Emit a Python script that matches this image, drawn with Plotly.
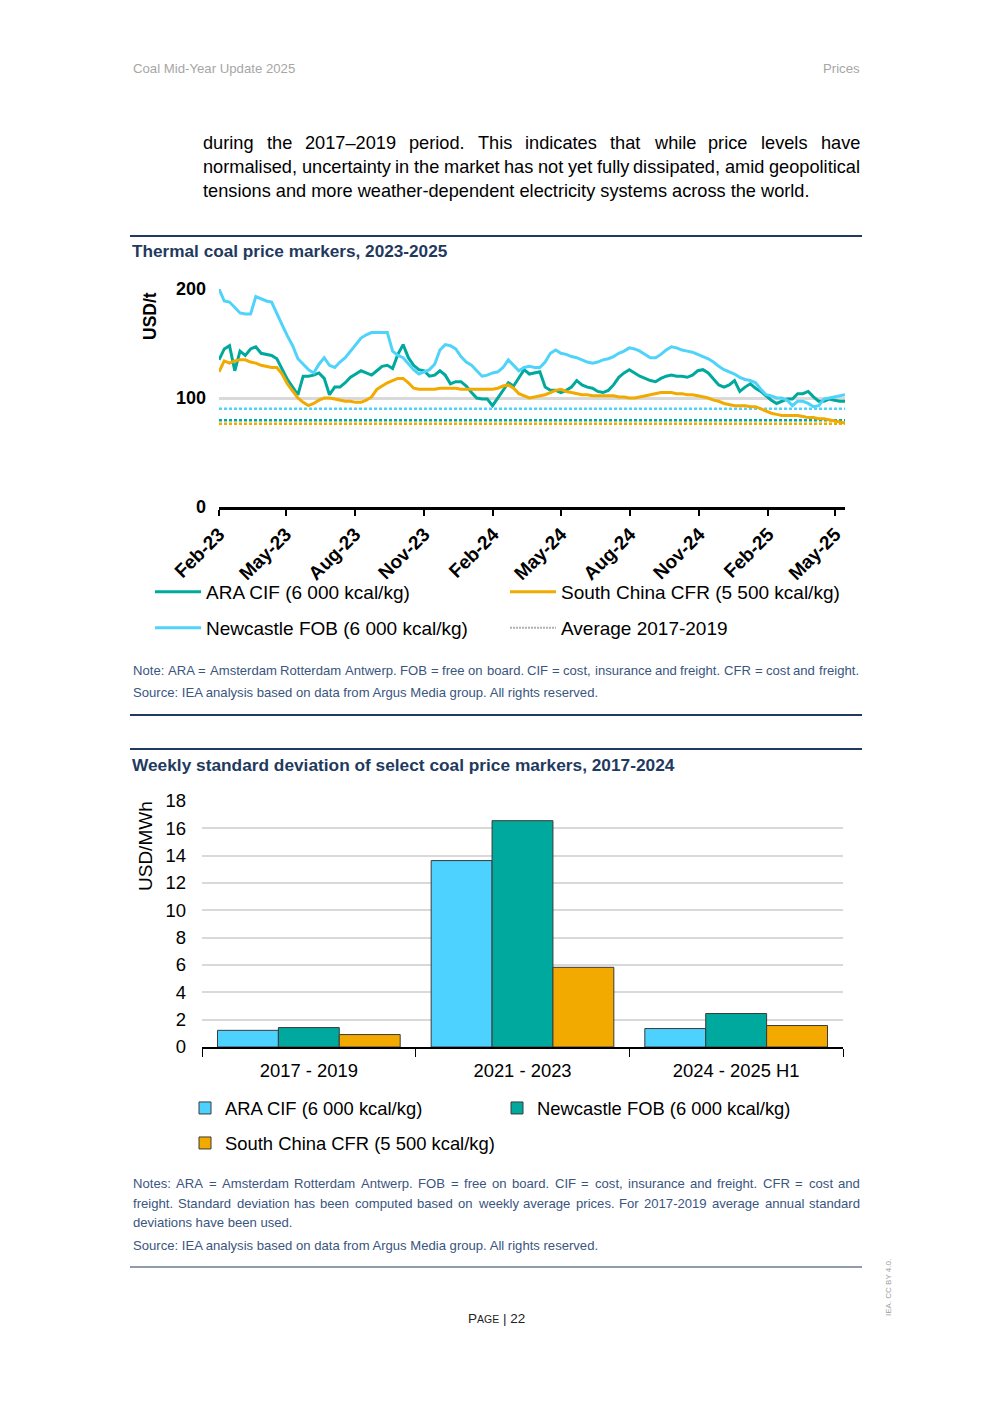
import plotly.graph_objects as go
import pandas as pd

W, H = 992, 1403
def px(x):
    return x / W
def py(y):
    return 1 - y / H

FONT = "Liberation Sans, Arial, sans-serif"

# ---------------- data: thermal coal price markers (USD/t), weekly ----------------
dates = pd.date_range("2023-02-03", periods=120, freq="7D")

ara_cif = [135, 145, 148, 125, 143, 139, 145, 147, 141, 140,
           139, 136, 127, 117, 110, 103, 120, 120, 121, 123,
           118, 103, 110, 110, 114, 119, 122, 125, 123, 121,
           125, 129, 130, 127, 140, 149, 137, 130, 126, 125,
           120, 121, 125, 121, 113, 115, 115, 111, 105, 100,
           99, 99, 93, 100, 108, 114, 111, 118, 126, 122,
           123, 124, 110, 107, 107, 105, 107, 110, 116, 112,
           110, 109, 106, 105, 107, 112, 119, 123, 126, 123,
           120, 118, 116, 115, 118, 120, 121, 120, 120, 119,
           121, 125, 126, 123, 117, 112, 110, 112, 116, 106,
           110, 113, 109, 106, 102, 98, 95, 97, 99, 99,
           104, 104, 106, 101, 97, 97, 99, 98, 97, 97]

newcastle_fob = [200, 189, 188, 183, 178, 177, 177, 193, 191, 189,
                 188, 177, 167, 157, 148, 136, 131, 126, 123, 131,
                 137, 130, 128, 133, 137, 143, 150, 155, 158, 160,
                 160, 160, 160, 143, 139, 137, 131, 126, 122, 124,
                 126, 131, 144, 149, 148, 145, 138, 133, 130, 125,
                 120, 121, 123, 124, 128, 135, 130, 125, 128, 129,
                 128, 128, 133, 141, 144, 141, 140, 138, 137, 135,
                 133, 132, 133, 135, 136, 138, 141, 143, 146, 145,
                 143, 140, 137, 137, 140, 144, 147, 146, 144, 143,
                 142, 140, 138, 136, 133, 129, 126, 124, 122, 119,
                 117, 116, 114, 108, 103, 102, 100, 100, 98, 93,
                 97, 97, 95, 92, 93, 99, 100, 101, 102, 103]

south_china_cfr = [124, 134, 132, 134, 135, 135, 133, 132, 130, 129,
                   128, 128, 122, 113, 106, 100, 96, 93, 95, 98,
                   100, 100, 99, 98, 97, 97, 96, 96, 98, 101,
                   108, 111, 114, 116, 118, 118, 114, 109, 108, 108,
                   108, 108, 109, 109, 109, 109, 108, 108, 108, 108,
                   108, 108, 108, 109, 111, 112, 109, 104, 102, 100,
                   101, 102, 103, 105, 107, 108, 106, 105, 104, 103,
                   103, 102, 102, 102, 102, 102, 101, 101, 100, 100,
                   101, 102, 103, 104, 105, 105, 105, 104, 104, 103,
                   103, 102, 101, 100, 98, 97, 95, 94, 93, 93,
                   93, 92, 92, 90, 88, 86, 85, 84, 84, 84,
                   84, 83, 82, 82, 81, 81, 80, 79, 78, 77]

avg_ara_2017_2019 = 79.5
avg_newcastle_2017_2019 = 90.2
avg_south_china_2017_2019 = 76.3

tick_dates = ["2023-02-03", "2023-05-03", "2023-08-03", "2023-11-03", "2024-02-03",
              "2024-05-03", "2024-08-03", "2024-11-03", "2025-02-03", "2025-05-03"]
tick_labels = ["Feb-23", "May-23", "Aug-23", "Nov-23", "Feb-24",
               "May-24", "Aug-24", "Nov-24", "Feb-25", "May-25"]

# ---------------- data: weekly standard deviation (USD/MWh) ----------------
periods = ["2017 - 2019", "2021 - 2023", "2024 - 2025 H1"]
sd_ara = [1.22, 13.64, 1.35]
sd_newcastle = [1.42, 16.56, 2.45]
sd_south_china = [0.91, 5.83, 1.57]

TEAL = "#00A99D"
LBLUE = "#4FD3FA"
ORANGE = "#F2A900"
BAR_BLUE = "#4DD2FF"
NAVY = "#1F3A5F"
NOTE = "#3A5580"

fig = go.Figure()

# average 2017-2019 reference lines
for val, col in [(avg_newcastle_2017_2019, LBLUE), (avg_ara_2017_2019, TEAL),
                 (avg_south_china_2017_2019, ORANGE)]:
    fig.add_trace(go.Scatter(x=[dates[0], dates[-1]], y=[val, val], mode="lines",
                             line=dict(color=col, width=2.5, dash="3px,2px"),
                             showlegend=False, hoverinfo="skip", xaxis="x", yaxis="y"))

fig.add_trace(go.Scatter(x=dates, y=ara_cif, mode="lines", name="ARA CIF (6 000 kcal/kg)",
                         line=dict(color=TEAL, width=3), legend="legend", xaxis="x", yaxis="y"))
fig.add_trace(go.Scatter(x=dates, y=newcastle_fob, mode="lines", name="Newcastle FOB (6 000 kcal/kg)",
                         line=dict(color=LBLUE, width=3), legend="legend2", xaxis="x", yaxis="y"))
fig.add_trace(go.Scatter(x=dates, y=south_china_cfr, mode="lines", name="South China CFR (5 500 kcal/kg)",
                         line=dict(color=ORANGE, width=3), legend="legend", xaxis="x", yaxis="y"))
fig.add_trace(go.Scatter(x=[None], y=[None], mode="lines", name="Average 2017-2019",
                         line=dict(color="#B0B0B0", width=2, dash="2px,1px"), legend="legend2",
                         xaxis="x", yaxis="y"))

# bars
OUT = dict(color="#3a3a3a", width=1)
fig.add_trace(go.Bar(x=periods, y=sd_ara, name="ARA CIF (6 000 kcal/kg)",
                     marker=dict(color=BAR_BLUE, line=OUT), legend="legend3", xaxis="x2", yaxis="y2"))
fig.add_trace(go.Bar(x=periods, y=sd_newcastle, name="Newcastle FOB (6 000 kcal/kg)",
                     marker=dict(color=TEAL, line=OUT), legend="legend3", xaxis="x2", yaxis="y2"))
fig.add_trace(go.Bar(x=periods, y=sd_south_china, name="South China CFR (5 500 kcal/kg)",
                     marker=dict(color=ORANGE, line=OUT), legend="legend4", xaxis="x2", yaxis="y2"))

def legend_style(x, y, ew, size, iw=30):
    return dict(x=px(x), y=py(y), xanchor="left", yanchor="middle", orientation="h",
                entrywidth=ew, entrywidthmode="pixels", bgcolor="rgba(0,0,0,0)",
                itemwidth=iw, traceorder="normal",
                font=dict(family=FONT, size=size, color="black"))

fig.update_layout(
    width=W, height=H, margin=dict(l=0, r=0, t=0, b=0, autoexpand=False),
    paper_bgcolor="white", plot_bgcolor="white", showlegend=True,
    barmode="group", bargap=0.145, bargroupgap=0,
    font=dict(family=FONT, color="black"),
    xaxis=dict(domain=[px(219), px(845)], anchor="y", type="date", automargin=False,
               range=[dates[0], dates[-1]], tickvals=tick_dates, ticktext=tick_labels,
               tickangle=-45, ticks="outside", ticklen=6, tickwidth=2, tickcolor="black",
               showline=True, linecolor="black", linewidth=2.5, showgrid=False,
               tickfont=dict(family=FONT, size=19, color="black", weight="bold")),
    yaxis=dict(domain=[py(507), py(289)], anchor="x", range=[0, 200], tickvals=[0, 100, 200],
               automargin=False, showgrid=True, gridcolor="#d9d9d9", gridwidth=3,
               zeroline=False, showline=False, ticks="", ticklabelstandoff=12,
               tickfont=dict(family=FONT, size=18, color="black", weight="bold")),
    xaxis2=dict(domain=[px(202), px(843)], anchor="y2", automargin=False, showline=True,
                linecolor="black", linewidth=1.5, ticks="outside", tickson="boundaries",
                ticklen=8, tickcolor="black", ticklabelstandoff=6, showgrid=False,
                tickfont=dict(family=FONT, size=18.4, color="black")),
    yaxis2=dict(domain=[py(1047), py(801)], anchor="x2", range=[0, 18], dtick=2, tick0=0,
                automargin=False, showgrid=True, gridcolor="#d9d9d9", gridwidth=2,
                zeroline=False, showline=False, ticks="", ticklabelstandoff=15,
                tickfont=dict(family=FONT, size=18.5, color="black")),
    legend=legend_style(150, 592, 294, 19, iw=46),
    legend2=legend_style(150, 628, 294, 19, iw=46),
    legend3=legend_style(185, 1108, 267, 18.4),
    legend4=legend_style(185, 1143, 267, 18.4),
)

# Arial / Liberation Sans advance widths (1/1000 em) for justified lines
ARIAL = {" ": 278, ",": 278, "-": 333, ".": 278, "/": 278, ":": 278, "=": 584, "(": 333, ")": 333,
         "–": 556, "0": 556, "1": 556, "2": 556, "3": 556, "4": 556, "5": 556, "6": 556, "7": 556,
         "8": 556, "9": 556, "A": 667, "B": 667, "C": 722, "D": 722, "E": 667, "F": 611, "G": 778,
         "H": 722, "I": 278, "J": 500, "K": 667, "L": 556, "M": 833, "N": 722, "O": 778, "P": 667,
         "Q": 778, "R": 722, "S": 667, "T": 611, "U": 722, "V": 667, "W": 944, "X": 667, "Y": 667,
         "Z": 611, "a": 556, "b": 556, "c": 500, "d": 556, "e": 556, "f": 278, "g": 556, "h": 556,
         "i": 222, "j": 222, "k": 500, "l": 222, "m": 833, "n": 556, "o": 556, "p": 556, "q": 556,
         "r": 333, "s": 500, "t": 278, "u": 556, "v": 500, "w": 722, "x": 500, "y": 500, "z": 500}

annotations = []
def text(x, y, s, size, color="black", anchor="left", bold=False, angle=0):
    annotations.append(dict(x=px(x), y=py(y), xref="paper", yref="paper", text=s, showarrow=False,
                            xanchor=anchor, yanchor="middle", textangle=angle, borderpad=0,
                            borderwidth=0,
                            font=dict(family=FONT, size=size, color=color,
                                      weight="bold" if bold else "normal")))

def justify(s, x0, x1, y, size, color="black"):
    words = s.split(" ")
    widths = [sum(ARIAL.get(c, 556) for c in w) * size / 1000 for w in words]
    gap = (x1 - x0 - sum(widths)) / (len(words) - 1)
    xx = x0
    for w, wd in zip(words, widths):
        text(xx, y, w, size, color)
        xx += wd + gap

# header
text(133, 68, "Coal Mid-Year Update 2025", 13.2, "#a6a6a6")
text(860, 68, "Prices", 13.2, "#a6a6a6", anchor="right")

# paragraph
justify("during the 2017–2019 period. This indicates that while price levels have", 203, 860, 143, 18.2)
justify("normalised, uncertainty in the market has not yet fully dissipated, amid geopolitical", 203, 860, 167, 18.2)
text(203, 191, "tensions and more weather-dependent electricity systems across the world.", 18.2)

# chart 1 title and notes
text(132, 251, "Thermal coal price markers, 2023-2025", 17.2, NAVY, bold=True)
text(150, 316, "USD/t", 17.5, "black", anchor="center", bold=True, angle=-90)
justify("Note: ARA = Amsterdam Rotterdam Antwerp. FOB = free on board. CIF = cost, insurance and freight. CFR = cost and freight.",
        133, 859, 670, 13.1, NOTE)
text(133, 692, "Source: IEA analysis based on data from Argus Media group. All rights reserved.", 13.1, NOTE)

# chart 2 title and notes
text(132, 765, "Weekly standard deviation of select coal price markers, 2017-2024", 17.3, NAVY, bold=True)
text(146, 846, "USD/MWh", 19, "black", anchor="center", angle=-90)
justify("Notes: ARA = Amsterdam Rotterdam Antwerp. FOB = free on board. CIF = cost, insurance and freight. CFR = cost and",
        133, 860, 1183, 13.1, NOTE)
justify("freight. Standard deviation has been computed based on weekly average prices. For 2017-2019 average annual standard",
        133, 860, 1203, 13.1, NOTE)
text(133, 1222, "deviations have been used.", 13.1, NOTE)
text(133, 1245, "Source: IEA analysis based on data from Argus Media group. All rights reserved.", 13.1, NOTE)

# footer
text(496, 1318, "P<span style='font-size:10.5px'>AGE</span> | 22", 13.5, "#222222", anchor="center")
text(888, 1288, "IEA. CC BY 4.0.", 8, "#a0a0a0", anchor="center", angle=-90)

fig.update_layout(annotations=annotations)

shapes = []
for yy, wdt in [(236, 2), (715, 2), (749, 2), (1267, 1.2)]:
    shapes.append(dict(type="line", xref="paper", yref="paper", x0=px(130), x1=px(862),
                       y0=py(yy), y1=py(yy), line=dict(color=NAVY, width=wdt)))
fig.update_layout(shapes=shapes)

fig.write_html("out.html", config={"displayModeBar": False},
               post_script="document.body.style.margin='0px';document.body.style.overflow='hidden';")
